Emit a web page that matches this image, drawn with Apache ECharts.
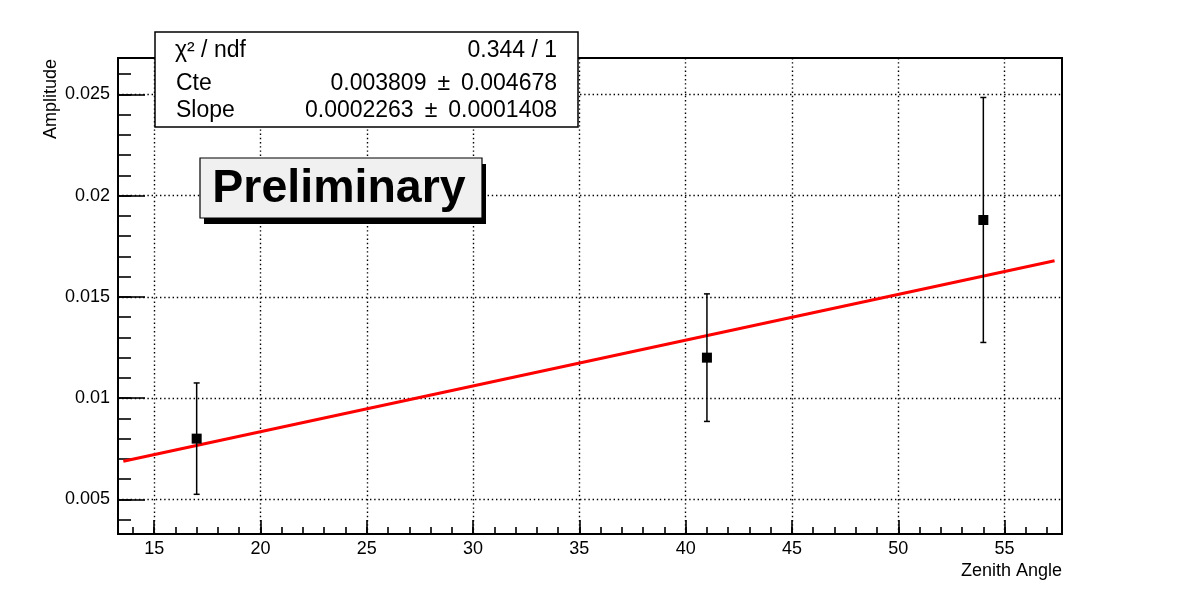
<!DOCTYPE html>
<html>
<head>
<meta charset="utf-8">
<script src="https://cdn.jsdelivr.net/npm/echarts@6/dist/echarts.min.js"></script>
<style>
html,body{margin:0;padding:0;background:#fff;}
#chart{width:1182px;height:594px;}
</style>
</head>
<body>
<div id="chart"></div>
<script>
// ---- data ----
const angles = [17, 41, 54];
const amplitude = [0.0080, 0.0120, 0.0188];
const amplitudeErr = [0.00275, 0.00315, 0.00605];
// fitted straight line (endpoints)
const fitX = [13.55, 57.35];
const fitY = [0.00688, 0.01679];
// axis ranges and tick labels
const xRange = [13.3, 57.7];
const yRange = [0.00329, 0.0268];
const xMajorTicks = [15, 20, 25, 30, 35, 40, 45, 50, 55];
const xMinorTicks = [14,15,16,17,18,19,20,21,22,23,24,25,26,27,28,29,30,31,32,33,34,35,36,37,38,39,40,41,42,43,44,45,46,47,48,49,50,51,52,53,54,55,56,57];
const yMajorTicks = [0.005, 0.01, 0.015, 0.02, 0.025];
const yMinorTicks = [0.004,0.005,0.006,0.007,0.008,0.009,0.010,0.011,0.012,0.013,0.014,0.015,0.016,0.017,0.018,0.019,0.020,0.021,0.022,0.023,0.024,0.025,0.026];
const xTitle = 'Zenith Angle';
const yTitle = 'Amplitude';
const statsRows = [
  ['χ² / ndf', '0.344 / 1'],
  ['Cte', '0.003809 \u2009±\u2009 0.004678'],
  ['Slope', '0.0002263 \u2009±\u2009 0.0001408']
];
const watermark = 'Preliminary';

const FONT = '"Liberation Sans", Arial, Helvetica, sans-serif';
const chart = echarts.init(document.getElementById('chart'), null, {renderer: 'canvas'});

const gridDot = {show: true, lineStyle: {color: '#000', width: 1.4, type: [1.4, 2.8]}};

const option = {
  backgroundColor: '#fff',
  animation: false,
  grid: {left: 118, top: 58, right: 120, bottom: 60, show: true, borderColor: '#000', borderWidth: 2, backgroundColor: 'transparent', z: 10},
  xAxis: [
    {
      type: 'value', min: xRange[0], max: xRange[1], minInterval: 5, maxInterval: 5, splitNumber: 9,
      axisLine: {show: false},
      axisTick: {show: true, inside: true, length: 14, lineStyle: {color: '#000', width: 1.6}, customValues: xMajorTicks},
      axisLabel: {show: true, margin: 6, color: '#000', fontSize: 18, fontFamily: FONT, customValues: xMajorTicks},
      splitLine: gridDot
    },
    {
      type: 'value', min: xRange[0], max: xRange[1], position: 'bottom',
      axisLine: {show: false},
      axisTick: {show: true, inside: true, length: 7, lineStyle: {color: '#000', width: 1.6}, customValues: xMinorTicks},
      axisLabel: {show: false},
      splitLine: {show: false}
    }
  ],
  yAxis: [
    {
      type: 'value', min: yRange[0], max: yRange[1], minInterval: 0.005, maxInterval: 0.005, splitNumber: 5,
      axisLine: {show: false},
      axisTick: {show: true, inside: true, length: 27, lineStyle: {color: '#000', width: 1.6}, customValues: yMajorTicks},
      axisLabel: {show: true, margin: 8, color: '#000', fontSize: 18, fontFamily: FONT, customValues: yMajorTicks},
      splitLine: gridDot
    },
    {
      type: 'value', min: yRange[0], max: yRange[1], position: 'left',
      axisLine: {show: false},
      axisTick: {show: true, inside: true, length: 13, lineStyle: {color: '#000', width: 1.6}, customValues: yMinorTicks},
      axisLabel: {show: false},
      splitLine: {show: false}
    }
  ],
  series: [
    {
      type: 'line',
      data: fitX.map((x, i) => [x, fitY[i]]),
      symbol: 'none',
      lineStyle: {color: '#ff0000', width: 3},
      z: 3
    },
    {
      type: 'custom',
      data: angles.map((x, i) => [x, amplitude[i] - amplitudeErr[i], amplitude[i] + amplitudeErr[i]]),
      renderItem: function (params, api) {
        const lo = api.coord([api.value(0), api.value(1)]);
        const hi = api.coord([api.value(0), api.value(2)]);
        const cap = 3;
        const st = {stroke: '#000', lineWidth: 1.5};
        return {
          type: 'group',
          children: [
            {type: 'line', shape: {x1: lo[0], y1: lo[1], x2: hi[0], y2: hi[1]}, style: st},
            {type: 'line', shape: {x1: lo[0] - cap, y1: lo[1], x2: lo[0] + cap, y2: lo[1]}, style: st},
            {type: 'line', shape: {x1: hi[0] - cap, y1: hi[1], x2: hi[0] + cap, y2: hi[1]}, style: st}
          ]
        };
      },
      z: 4
    },
    {
      type: 'scatter',
      data: angles.map((x, i) => [x, amplitude[i]]),
      symbol: 'rect',
      symbolSize: 10,
      itemStyle: {color: '#000', opacity: 1},
      z: 5
    }
  ],
  graphic: [
    // axis titles
    {type: 'text', x: 1062, y: 571, z: 50, style: {text: xTitle, font: '18px ' + FONT, fill: '#000', align: 'right', verticalAlign: 'middle'}},
    {type: 'text', x: 60, y: 59, rotation: Math.PI / 2, z: 50, style: {text: yTitle, font: '18px ' + FONT, fill: '#000', align: 'right', verticalAlign: 'bottom'}},
    // stats box
    {type: 'rect', z: 60, shape: {x: 155, y: 32, width: 423, height: 95}, style: {fill: '#fff', stroke: '#000', lineWidth: 1.5}},
    {type: 'text', z: 61, x: 175, y: 51, style: {text: statsRows[0][0], font: '23px ' + FONT, fill: '#000', align: 'left', verticalAlign: 'middle'}},
    {type: 'text', z: 61, x: 557, y: 51, style: {text: statsRows[0][1], font: '23px ' + FONT, fill: '#000', align: 'right', verticalAlign: 'middle'}},
    {type: 'text', z: 61, x: 176, y: 84, style: {text: statsRows[1][0], font: '23px ' + FONT, fill: '#000', align: 'left', verticalAlign: 'middle'}},
    {type: 'text', z: 61, x: 557, y: 84, style: {text: statsRows[1][1], font: '23px ' + FONT, fill: '#000', align: 'right', verticalAlign: 'middle'}},
    {type: 'text', z: 61, x: 176, y: 111, style: {text: statsRows[2][0], font: '23px ' + FONT, fill: '#000', align: 'left', verticalAlign: 'middle'}},
    {type: 'text', z: 61, x: 557, y: 111, style: {text: statsRows[2][1], font: '23px ' + FONT, fill: '#000', align: 'right', verticalAlign: 'middle'}},
    // preliminary label with shadow
    {type: 'rect', z: 60, shape: {x: 204, y: 164, width: 282, height: 60}, style: {fill: '#000'}},
    {type: 'rect', z: 61, shape: {x: 200, y: 158, width: 282, height: 60}, style: {fill: '#f0f0f0', stroke: '#000', lineWidth: 1.2}},
    {type: 'text', z: 62, x: 339, y: 189, style: {text: watermark, font: 'bold 46.5px ' + FONT, fill: '#000', align: 'center', verticalAlign: 'middle'}}
  ]
};
chart.setOption(option);
</script>
</body>
</html>
